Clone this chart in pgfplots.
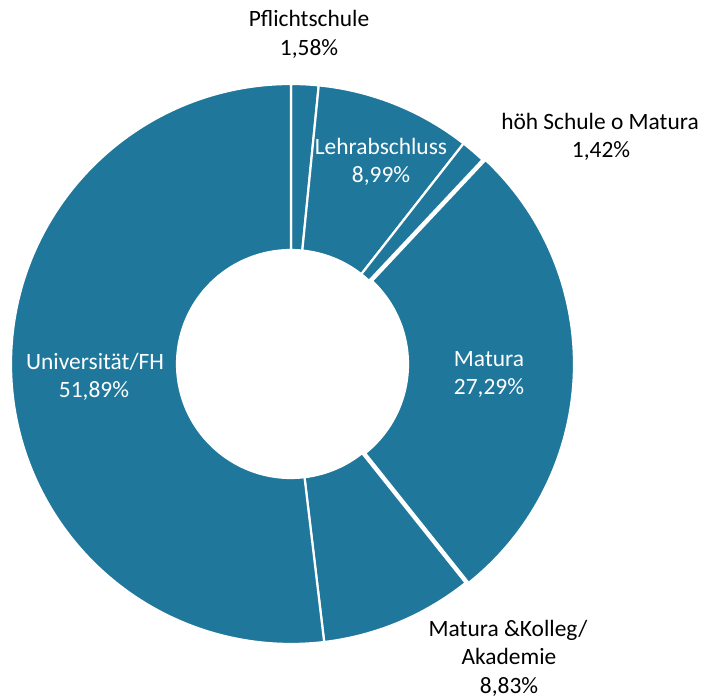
\documentclass[border=0pt]{standalone}
\usepackage{pgfplots}
\pgfplotsset{compat=1.18}
\usepackage{fontspec}
\setmainfont{Carlito}
\definecolor{slicecol}{RGB}{31,120,155}

% shares in percent, clockwise from 12 o'clock
\def\pPflicht{1.58}
\def\pLehr{8.99}
\def\pHoeh{1.42}
\def\pMatura{27.29}
\def\pKolleg{8.83}
\def\pUni{51.89}

\pgfmathsetmacro\cA{0}
\pgfmathsetmacro\cB{\cA+\pPflicht}
\pgfmathsetmacro\cC{\cB+\pLehr}
\pgfmathsetmacro\cD{\cC+\pHoeh}
\pgfmathsetmacro\cE{\cD+\pMatura}
\pgfmathsetmacro\cF{\cE+\pKolleg}
\pgfmathsetmacro\cG{\cF+\pUni}

\def\CX{291}\def\CY{335}\def\Rin{114}\def\Rout{280}

\newcommand\slice[3]{%
  \pgfmathsetmacro\aS{90-3.6*(#1)}%
  \pgfmathsetmacro\aE{90-3.6*(#2)}%
  \pgfmathsetmacro\aM{(\aS+\aE)/2}%
  \pgfmathsetmacro\cx{\CX+#3*cos(\aM)}%
  \pgfmathsetmacro\cy{\CY+#3*sin(\aM)}%
  \edef\doslice{\noexpand\fill[slicecol,draw=white,line width=2.2bp]
    ([shift={(\aS:\Rin bp)}]axis cs:\cx,\cy) arc[start angle=\aS,end angle=\aE,radius=\Rin bp]
    -- ([shift={(\aE:\Rout bp)}]axis cs:\cx,\cy) arc[start angle=\aE,end angle=\aS,radius=\Rout bp] -- cycle;}%
  \doslice
}

\begin{document}
\begin{tikzpicture}
\begin{axis}[width=705bp, height=699bp, scale only axis,
  xmin=0, xmax=705, ymin=0, ymax=699, hide axis, clip=false]
\path (axis cs:0,0) (axis cs:705,699);
\slice{\cA}{\cB}{0}
\slice{\cB}{\cC}{0}
\slice{\cC}{\cD}{0}
\slice{\cD}{\cE}{3}
\slice{\cE}{\cF}{0}
\slice{\cF}{\cG}{0}
\begin{scope}[every node/.style={anchor=base, inner sep=0pt, font=\fontsize{23.5}{28}\selectfont}]
\node at (axis cs:309,672) {Pflichtschule};
\node at (axis cs:309,643) {1,58\%};
\node[text=white] at (axis cs:381,544) {Lehrabschluss};
\node[text=white] at (axis cs:381,516) {8,99\%};
\node at (axis cs:600,569) {höh Schule o Matura};
\node at (axis cs:601,541) {1,42\%};
\node[text=white] at (axis cs:489,332) {Matura};
\node[text=white] at (axis cs:489,304) {27,29\%};
\node at (axis cs:508,62) {Matura \&Kolleg/};
\node at (axis cs:509,34) {Akademie};
\node at (axis cs:509,6) {8,83\%};
\node[text=white] at (axis cs:95,329) {Universität/FH};
\node[text=white] at (axis cs:94,301) {51,89\%};
\end{scope}
\end{axis}
\end{tikzpicture}
\end{document}
